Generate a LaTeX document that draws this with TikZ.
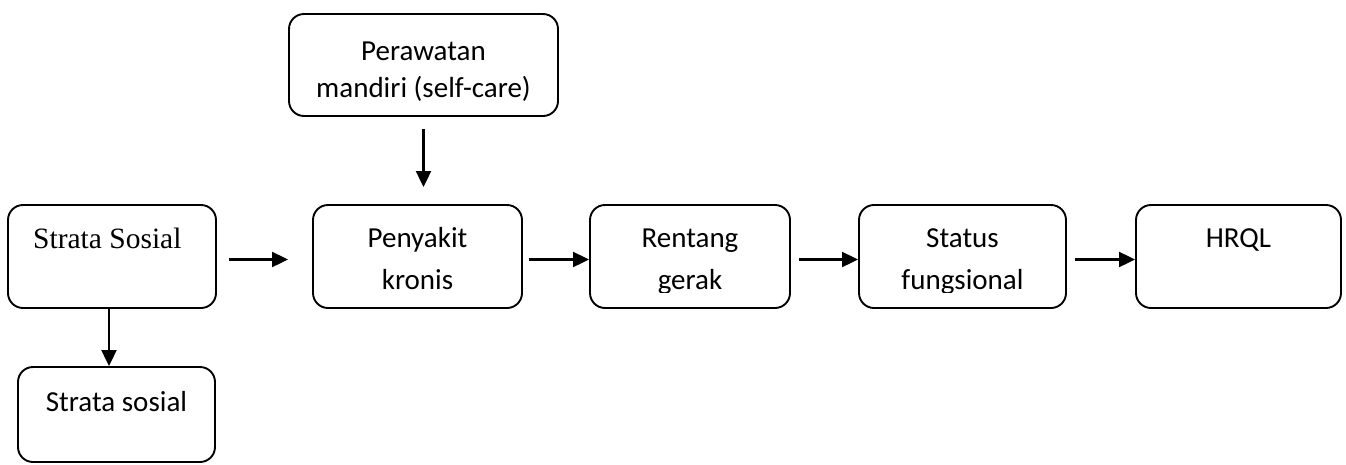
\documentclass[tikz,border=0pt]{standalone}
\usepackage{fontspec}
\setmainfont{Carlito}
\newfontfamily\timesf{Liberation Serif}
\usetikzlibrary{arrows.meta}
\tikzset{
  box/.style={draw, line width=1.9pt, rounded corners=15pt, rectangle, inner sep=0pt},
  txt/.style={inner sep=0pt, anchor=base, font=\fontsize{29}{35}\selectfont},
  arr/.style={line width=2.1pt, -{Triangle[length=16pt,width=15pt]}}
}
\begin{document}
\begin{tikzpicture}[x=1pt,y=-1pt]
\useasboundingbox (0,0) rectangle (1346,464);
% boxes
\node[box, minimum width=269pt, minimum height=102pt] (pw) at (423.5,65) {};
\node[box, minimum width=208pt, minimum height=103pt] (ss) at (112,256.5) {};
\node[box, minimum width=197pt, minimum height=95pt] (sb) at (116.5,414.5) {};
\node[box, minimum width=209pt, minimum height=103pt] (py) at (417.5,256.5) {};
\node[box, minimum width=200pt, minimum height=103pt] (rg) at (690,256.5) {};
\node[box, minimum width=207pt, minimum height=103pt] (st) at (962.5,256.5) {};
\node[box, minimum width=205pt, minimum height=103pt] (hq) at (1238.5,256.5) {};
% texts
\node[txt] (pw1) at (423.5,60) {Perawatan};
\node[txt] (pw2) at (423.5,97) {mandiri (self-care)};
\node[txt, anchor=base west, font=\timesf\fontsize{29.5}{35}\selectfont] (ss1) at (33,248) {Strata Sosial};
\node[txt] (sb1) at (116.5,411) {Strata sosial};
\node[txt] (py1) at (417.5,247) {Penyakit};
\node[txt] (py2) at (417.5,289) {kronis};
\begin{scope}
  \clip (rg.north west) rectangle (rg.east |- 0,292);
  \node[txt] (rg1) at (690,247) {Rentang};
  \node[txt] (rg2) at (690,289) {gerak};
\end{scope}
\begin{scope}
  \clip (st.north west) rectangle (st.east |- 0,292);
  \node[txt] (st1) at (962.5,247) {Status};
  \node[txt] (st2) at (962.5,289) {fungsional};
\end{scope}
\node[txt] (hq1) at (1238.5,247) {HRQL};
% connectors
\coordinate (row) at (0,259.5);
\draw[arr, shorten <=12pt, shorten >=17pt] (pw.south) -- (pw.south |- py.north);
\draw[arr, shorten <=12pt, shorten >=24pt] (ss.east |- row) -- (py.west |- row);
\draw[arr, shorten <=6pt] (py.east |- row) -- (rg.west |- row);
\draw[arr, shorten <=8pt] (rg.east |- row) -- (st.west |- row);
\draw[arr, shorten <=8pt] (st.east |- row) -- (hq.west |- row);
\draw[arr] (ss.south -| 109,0) -- (sb.north -| 109,0);
\end{tikzpicture}
\end{document}
